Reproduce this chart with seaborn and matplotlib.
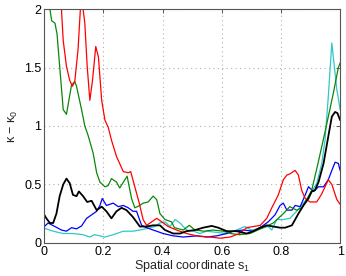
import matplotlib
matplotlib.use("Agg")
import matplotlib.pyplot as plt
import seaborn as sns
import pandas as pd

# ---- data ----
green_s = [0.0, 0.019, 0.025, 0.036, 0.043, 0.052, 0.064, 0.075, 0.092, 0.103, 0.109, 0.126, 0.137,
           0.148, 0.165, 0.177, 0.188, 0.205, 0.216, 0.227, 0.244, 0.255, 0.280, 0.295, 0.306, 0.323,
           0.334, 0.351, 0.368, 0.38, 0.391, 0.408, 0.43, 0.44, 0.47, 0.49, 0.51, 0.54, 0.57, 0.605,
           0.63, 0.66, 0.695, 0.74, 0.774, 0.808, 0.83, 0.853, 0.87, 0.887, 0.904, 0.927, 0.949,
           0.966, 0.977, 0.994, 1.0]
green_k = [2.3, 2.0, 1.90, 1.88, 1.79, 1.51, 1.14, 1.10, 1.35, 1.38, 1.34, 1.14, 1.00,
           0.92, 0.77, 0.60, 0.52, 0.48, 0.49, 0.55, 0.52, 0.47, 0.57, 0.38, 0.30, 0.32,
           0.34, 0.35, 0.40, 0.37, 0.25, 0.20, 0.18, 0.13, 0.11, 0.15, 0.11, 0.10, 0.11, 0.10,
           0.08, 0.07, 0.08, 0.13, 0.17, 0.25, 0.31, 0.28, 0.30, 0.37, 0.45, 0.70, 0.95,
           1.15, 1.28, 1.50, 1.54]

red_s = [0.0, 0.03, 0.058, 0.064, 0.075, 0.086, 0.095, 0.103, 0.114, 0.122, 0.126, 0.131, 0.137,
         0.145, 0.154, 0.163, 0.174, 0.183, 0.194, 0.205, 0.216, 0.227, 0.244, 0.267, 0.284, 0.292,
         0.306, 0.321, 0.334, 0.346, 0.363, 0.38, 0.397, 0.419, 0.447, 0.481, 0.515, 0.56, 0.594,
         0.628, 0.66, 0.684, 0.73, 0.752, 0.769, 0.791, 0.808, 0.82, 0.83, 0.848, 0.859, 0.87,
         0.882, 0.898, 0.921, 0.938, 0.96, 0.972, 0.989, 1.0]
red_k = [2.6, 2.4, 2.0, 1.73, 1.51, 1.39, 1.34, 1.38, 1.65, 2.0, 2.1, 2.0, 1.88,
         1.51, 1.22, 1.39, 1.68, 1.59, 1.22, 1.05, 0.99, 0.88, 0.74, 0.61, 0.60, 0.61,
         0.48, 0.34, 0.20, 0.15, 0.18, 0.21, 0.18, 0.14, 0.11, 0.08, 0.06, 0.05, 0.04,
         0.05, 0.08, 0.13, 0.15, 0.21, 0.30, 0.41, 0.54, 0.58, 0.59, 0.62, 0.58, 0.45,
         0.38, 0.35, 0.35, 0.42, 0.54, 0.50, 0.37, 0.33]

black_s = [0.0, 0.007, 0.019, 0.03, 0.041, 0.052, 0.064, 0.075, 0.086, 0.097, 0.109, 0.117, 0.131,
           0.145, 0.16, 0.177, 0.194, 0.21, 0.227, 0.244, 0.261, 0.278, 0.30, 0.323, 0.346, 0.368,
           0.391, 0.408, 0.436, 0.459, 0.481, 0.51, 0.537, 0.566, 0.588, 0.617, 0.65, 0.684, 0.707,
           0.73, 0.752, 0.774, 0.797, 0.814, 0.837, 0.859, 0.876, 0.893, 0.904, 0.915, 0.927, 0.944,
           0.96, 0.972, 0.983, 0.991, 1.0]
black_k = [0.24, 0.21, 0.17, 0.17, 0.25, 0.40, 0.50, 0.55, 0.51, 0.41, 0.40, 0.44, 0.40,
           0.35, 0.36, 0.28, 0.31, 0.27, 0.21, 0.27, 0.30, 0.28, 0.22, 0.14, 0.14, 0.15,
           0.15, 0.11, 0.08, 0.08, 0.10, 0.11, 0.13, 0.145, 0.13, 0.10, 0.10, 0.08, 0.10,
           0.13, 0.15, 0.14, 0.13, 0.13, 0.15, 0.25, 0.32, 0.38, 0.44, 0.45, 0.52, 0.68,
           0.91, 1.08, 1.12, 1.11, 1.05]

blue_s = [0.0, 0.013, 0.036, 0.058, 0.075, 0.092, 0.109, 0.126, 0.143, 0.16, 0.177, 0.188, 0.196,
          0.21, 0.233, 0.25, 0.267, 0.284, 0.30, 0.312, 0.329, 0.346, 0.368, 0.402, 0.436, 0.47,
          0.515, 0.549, 0.583, 0.617, 0.639, 0.673, 0.707, 0.735, 0.757, 0.78, 0.797, 0.808, 0.82,
          0.837, 0.848, 0.865, 0.882, 0.893, 0.91, 0.927, 0.944, 0.96, 0.972, 0.983, 0.994, 1.0]
blue_k = [0.14, 0.17, 0.14, 0.11, 0.10, 0.13, 0.12, 0.145, 0.21, 0.24, 0.27, 0.32, 0.38,
          0.32, 0.34, 0.31, 0.32, 0.30, 0.27, 0.27, 0.15, 0.13, 0.11, 0.08, 0.06, 0.05,
          0.06, 0.05, 0.06, 0.08, 0.10, 0.11, 0.10, 0.14, 0.18, 0.24, 0.32, 0.34, 0.28,
          0.28, 0.32, 0.31, 0.41, 0.48, 0.44, 0.48, 0.48, 0.54, 0.62, 0.69, 0.68, 0.62]

cyan_s = [0.0, 0.03, 0.064, 0.097, 0.131, 0.154, 0.17, 0.188, 0.205, 0.233, 0.267, 0.30, 0.323,
          0.351, 0.374, 0.39, 0.408, 0.425, 0.442, 0.459, 0.481, 0.504, 0.526, 0.549, 0.583, 0.617,
          0.65, 0.678, 0.70, 0.73, 0.757, 0.769, 0.786, 0.808, 0.83, 0.853, 0.876, 0.898, 0.921,
          0.938, 0.949, 0.96, 0.972, 0.977, 0.989, 1.0]
cyan_k = [0.125, 0.10, 0.08, 0.08, 0.07, 0.05, 0.07, 0.06, 0.05, 0.07, 0.10, 0.10, 0.11,
          0.125, 0.14, 0.17, 0.18, 0.14, 0.20, 0.17, 0.11, 0.10, 0.08, 0.10, 0.09, 0.08,
          0.11, 0.14, 0.11, 0.125, 0.14, 0.11, 0.20, 0.20, 0.21, 0.27, 0.34, 0.41, 0.51,
          0.68, 0.88, 1.25, 1.71, 1.59, 1.31, 1.14]

x_ticks = [0, 0.2, 0.4, 0.6, 0.8, 1]
x_tick_labels = ["0", "0.2", "0.4", "0.6", "0.8", "1"]
y_ticks = [0, 0.5, 1, 1.5, 2]
y_tick_labels = ["0", "0.5", "1", "1.5", "2"]

# ---- style ----
sns.set_theme(style="white")
plt.rcParams["font.family"] = ["Liberation Sans", "DejaVu Sans"]
plt.rcParams["mathtext.default"] = "regular"

fig = plt.figure(figsize=(3.46, 2.76), dpi=100)
ax = fig.add_axes([0.128, 0.12, 0.855, 0.847])

series = [
    (cyan_s, cyan_k, "#2ec8c8", 0.9),
    (blue_s, blue_k, "#0000ff", 0.9),
    (green_s, green_k, "#0a870a", 0.9),
    (red_s, red_k, "#ff0000", 0.9),
    (black_s, black_k, "#000000", 1.3),
]
for s, k, c, lw in series:
    df = pd.DataFrame({"s": s, "k": k})
    sns.lineplot(data=df, x="s", y="k", ax=ax, color=c, linewidth=lw, sort=False,
                 estimator=None)

ax.set_xlim(0, 1)
ax.set_ylim(0, 2)
ax.set_xticks(x_ticks)
ax.set_xticklabels(x_tick_labels)
ax.set_yticks(y_ticks)
ax.set_yticklabels(y_tick_labels)
ax.grid(True, linestyle=(0, (1, 3)), color="#b0b0b0", linewidth=0.8)
ax.tick_params(direction="in", length=3, width=0.6, colors="#444444", labelcolor="black",
               labelsize=9, top=True, right=True, pad=2)
for sp in ax.spines.values():
    sp.set_visible(True)
    sp.set_color("#555555")
    sp.set_linewidth(0.8)

ax.set_xlabel("Spatial coordinate s$_1$", fontsize=9, labelpad=0)
ax.set_ylabel("κ − κ$_0$", fontsize=9, labelpad=3)

fig.savefig("out.png", dpi=100)
